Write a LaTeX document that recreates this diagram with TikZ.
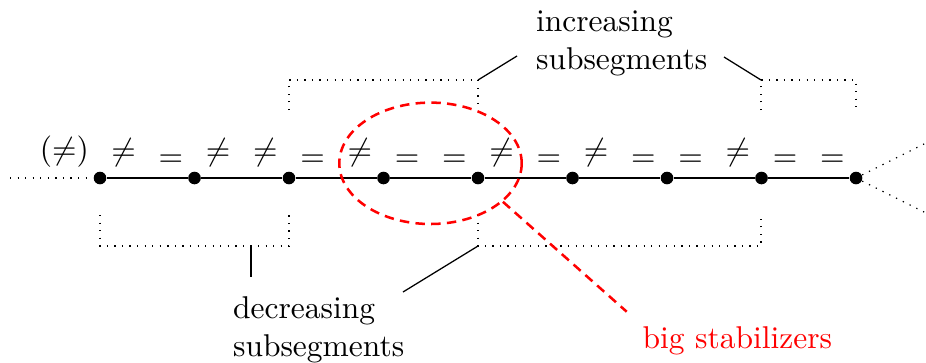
\documentclass[tikz,border=0pt]{standalone}
\usetikzlibrary{shapes.geometric}
\tikzset{
  dot/.style={circle,fill=black,inner sep=0pt,minimum size=4pt},
  rel/.style={above},
  bracket/.style={dotted},
  lbl/.style={anchor=north west,inner sep=0pt,align=left},
  redline/.style={red,thick,densely dashed},
}
\begin{document}
\begin{tikzpicture}[x=0.3175pt,y=-0.3175pt]
\useasboundingbox (0,0) rectangle (926,362);

% dots on the line
\foreach \i in {0,...,8}
  \node[dot] (d\i) at ({100+94.5*\i},178) {};
\draw (d0) -- (d1) -- (d2) -- (d3) -- (d4) -- (d5) -- (d6) -- (d7) -- (d8);

% dotted continuations
\coordinate (s0) at (10,178);
\coordinate (e1) at (926,143);
\coordinate (e2) at (926,213);
\draw[dotted] (s0) -- (d0);
\draw[dotted] (d8) -- (e1);
\draw[dotted] (d8) -- (e2);

% relation symbols
\node[above left] (p0) at (d0.center) {$(\neq)$};
\foreach \x/\s [count=\k] in {123.6/\neq,170.9/=,218.1/\neq,265.4/\neq,312.6/=,359.9/\neq,407.1/=,454.4/=,501.6/\neq,548.9/=,596.1/\neq,643.4/=,690.6/=,737.9/\neq,785.1/=,832.4/=}
  \node[rel] (r\k) at (\x,178) {$\s$};

% increasing brackets (top)
\draw[bracket] (289,110) -- (289,80) -- (478,80) -- (478,110);
\draw[bracket] (761,110) -- (761,80) -- (856,80) -- (856,110);
% decreasing brackets (bottom)
\draw[bracket] (100,215) -- (100,246) -- (289,246) -- (289,215);
\draw[bracket] (478,215) -- (478,246) -- (761,246) -- (761,215);

% labels
\node[lbl] (inc) at (535.5,10.3) {increasing\\subsegments};
\node[lbl] (dec) at (232.5,296.4) {decreasing\\subsegments};

% label connectors
\coordinate (ib1) at (478,80);
\coordinate (ib2) at (761,80);
\coordinate (it1) at (517,56);
\coordinate (it2) at (724,57);
\draw (ib1) -- (it1);
\draw (ib2) -- (it2);
\coordinate (db1) at (251,246);
\coordinate (db2) at (478,246);
\coordinate (dt1) at (251,277);
\coordinate (dt2) at (403,292);
\draw (db1) -- (dt1);
\draw (db2) -- (dt2);

% big stabilizers
\node[ellipse,draw=red,thick,densely dashed,inner sep=0pt,minimum width=182.4*0.3175pt,minimum height=121.4*0.3175pt] (big) at (430.5,163.3) {};
\node[anchor=base west,inner sep=0pt,text=red] (bs) at (642,348.3) {big stabilizers};
\coordinate (bsend) at (626.7,311.7);
\draw[redline] (big.-28.3) -- (bsend);
\end{tikzpicture}
\end{document}
